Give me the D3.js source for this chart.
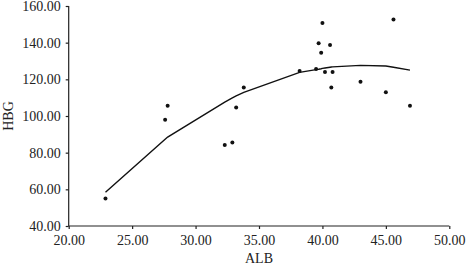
<!DOCTYPE html>
<html>
<head>
<meta charset="utf-8">
<script src="https://cdn.jsdelivr.net/npm/d3@7"></script>
<style>
  body { margin: 0; background: #fff; }
  .axis text { font-family: "Liberation Serif", serif; font-size: 14px; fill: #222; }
  .axis path, .axis line { stroke: #222; stroke-width: 1.2; }
  .label { font-family: "Liberation Serif", serif; font-size: 14px; fill: #222; }
</style>
</head>
<body>
<div id="chart"></div>
<script>
// scatter points (ALB, HBG)
var alb = [22.9, 27.8, 27.6, 33.8, 33.2, 38.2, 39.5, 39.7, 40.0, 39.9,
           40.6, 40.2, 40.8, 40.7, 43.0, 45.6, 45.0, 46.9, 32.3, 32.9];
var hbg = [55.0, 105.6, 98.0, 115.6, 104.7, 124.5, 125.6, 139.7, 150.7, 134.5,
           138.7, 124.0, 124.0, 115.6, 118.7, 152.7, 112.9, 105.6, 84.2, 85.6];

// fitted (loess) line, at sorted ALB values
var fitX = [22.9, 27.6, 27.8, 32.3, 32.9, 33.2, 33.8, 38.2, 39.5, 39.7,
            39.9, 40.0, 40.2, 40.6, 40.7, 40.8, 43.0, 45.0, 45.6, 46.9];
var fitY = [58.4, 87.3, 88.5, 107.6, 109.9, 111.0, 112.9, 123.8, 125.3, 125.5,
            125.8, 126.0, 126.2, 126.6, 126.7, 126.8, 127.6, 127.3, 126.6, 125.0];

var xTicks = [20, 25, 30, 35, 40, 45, 50];
var yTicks = [40, 60, 80, 100, 120, 140, 160];

var totalWidth = 466, totalHeight = 265;
var margin = {top: 6, right: 16.7, bottom: 39, left: 68.7};

var svg = d3.select("#chart").append("svg")
    .attr("width", totalWidth)
    .attr("height", totalHeight);

// scaling
var xScale = d3.scaleLinear()
    .domain([20, 50])
    .range([margin.left, totalWidth - margin.right]);

var yScale = d3.scaleLinear()
    .domain([40, 160])
    .range([totalHeight - margin.bottom, margin.top]);

// x-as
var xAxis = d3.axisBottom(xScale)
    .tickValues(xTicks)
    .tickSize(3)
    .tickPadding(6)
    .tickFormat(d3.format(".2f"));
svg.append("g")
    .attr("class", "axis")
    .attr("transform", "translate(" + [0, totalHeight - margin.bottom] + ")")
    .call(xAxis)
    .call(function(g) { g.select(".domain").attr("d", "M" + xScale(20) + ",0H" + xScale(50)); });

// y-as
var yAxis = d3.axisLeft(yScale)
    .tickValues(yTicks)
    .tickSize(3)
    .tickPadding(5)
    .tickFormat(d3.format(".2f"));
svg.append("g")
    .attr("class", "axis")
    .attr("transform", "translate(" + [margin.left, 0] + ")")
    .call(yAxis)
    .call(function(g) { g.select(".domain").attr("d", "M0," + yScale(40) + "V" + yScale(160)); });

// axis labels
svg.append("text")
    .attr("class", "label")
    .attr("text-anchor", "middle")
    .attr("x", xScale(35))
    .attr("y", 263)
    .text("ALB");

svg.append("text")
    .attr("class", "label")
    .attr("text-anchor", "middle")
    .attr("transform", "translate(" + [12.5, 116] + ") rotate(-90)")
    .text("HBG");

// fit line
var fit = fitX.map(function(x, i) { return {x: x, y: fitY[i]}; });
var line = d3.line()
    .x(function(d) { return xScale(d.x); })
    .y(function(d) { return yScale(d.y); });

svg.append("path")
    .datum(fit)
    .attr("fill", "none")
    .attr("stroke", "#111")
    .attr("stroke-width", 1.4)
    .attr("d", line);

// points
var dataset = alb.map(function(a, i) { return {alb: a, hbg: hbg[i]}; });
svg.selectAll(".dot")
    .data(dataset).enter().append("circle")
    .attr("class", "dot")
    .attr("cx", function(d) { return xScale(d.alb); })
    .attr("cy", function(d) { return yScale(d.hbg); })
    .attr("r", 2)
    .attr("fill", "#111");
</script>
</body>
</html>
